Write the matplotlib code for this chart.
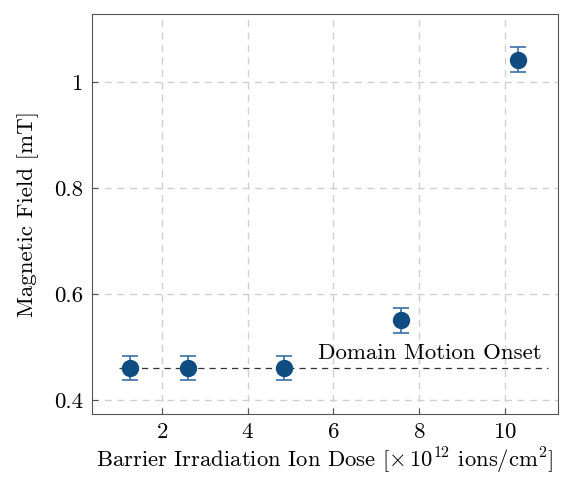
import matplotlib.pyplot as plt

plt.rcParams['font.family'] = 'serif'
plt.rcParams['font.serif'] = ['cmr10']
plt.rcParams['mathtext.fontset'] = 'cm'
plt.rcParams['axes.formatter.use_mathtext'] = True

dose = [1.25, 2.6, 4.85, 7.58, 10.3]
field = [0.46, 0.46, 0.46, 0.55, 1.042]
field_err = [0.023, 0.023, 0.023, 0.023, 0.023]
onset = 0.46
onset_range = [1.0, 11.0]

fig = plt.figure(figsize=(5.62, 4.78), dpi=100)
ax = fig.add_axes([92/562, 64/478, 466/562, 400/478])

ax.grid(True, color='#d0d0d0', linestyle=(0, (5, 4)), linewidth=1.0)
ax.set_axisbelow(True)

ax.plot(onset_range, [onset, onset], color='#333333', linestyle=(0, (5, 4)), linewidth=0.9, zorder=2)
ax.text(10.85, onset + 0.01, 'Domain Motion Onset', ha='right', va='bottom', fontsize=16.5)

ax.errorbar(dose, field, yerr=field_err, fmt='o', color='#0f4c81', ecolor='#3a6ea5',
            markersize=11.5, elinewidth=1.2, capsize=6, capthick=1.2, zorder=3)

ax.set_xlim(0.37, 11.24)
ax.set_ylim(0.3736, 1.128)
ax.set_xticks([2, 4, 6, 8, 10])
ax.set_yticks([0.4, 0.6, 0.8, 1.0])
ax.set_yticklabels(['0.4', '0.6', '0.8', '1'])
ax.tick_params(direction='in', length=4, labelsize=16.5, color='#555555', top=False, right=False, pad=6)
for s in ax.spines.values():
    s.set_color('#555555')

ax.set_xlabel(r'Barrier Irradiation Ion Dose [$\times\,10^{12}$ ions/cm$^2$]', fontsize=16.3, labelpad=3)
ax.set_ylabel('Magnetic Field [mT]', fontsize=16.5, labelpad=11)

fig.savefig('out.png', dpi=100)
